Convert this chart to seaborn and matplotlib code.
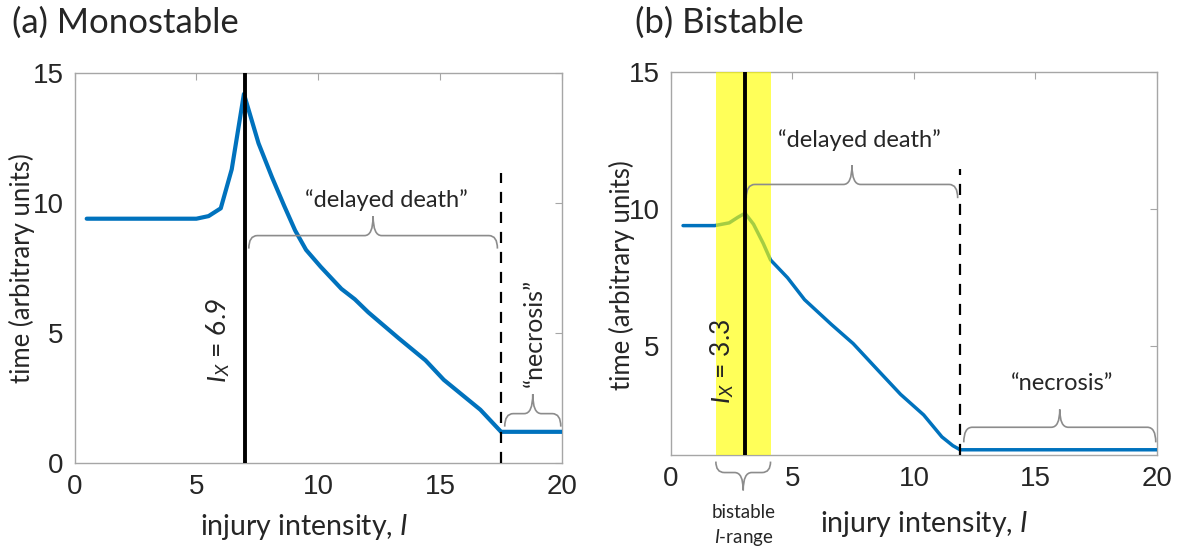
import numpy as np
import pandas as pd
import matplotlib
matplotlib.use('Agg')
import matplotlib.pyplot as plt
from matplotlib.path import Path
from matplotlib.patches import PathPatch
import seaborn as sns

# ---- data ----
mono_I = [0.5, 5.0, 5.5, 6.0, 6.45, 6.95, 7.55, 8.1, 8.6, 9.05, 9.5, 10.1, 10.95,
          11.5, 12.05, 13.3, 14.4, 15.15, 16.65, 17.5, 20.0]
mono_t = [9.4, 9.4, 9.5, 9.8, 11.3, 14.2, 12.3, 11.0, 9.9, 8.95, 8.2, 7.55, 6.7,
          6.3, 5.8, 4.8, 3.95, 3.2, 2.05, 1.2, 1.2]

bi_I = [0.5, 1.8, 2.4, 2.75, 3.05, 3.4, 3.8, 4.1, 4.8, 5.5, 6.6, 7.5, 8.55,
        9.45, 10.4, 11.15, 11.6, 11.9, 20.0]
bi_t = [9.4, 9.4, 9.5, 9.7, 9.85, 9.45, 8.75, 8.15, 7.5, 6.7, 5.8, 5.1, 4.1,
        3.25, 2.5, 1.7, 1.38, 1.23, 1.23]

mono_IX = 7.0          # drawn position of I_X = 6.9
mono_necrosis = 17.5
bi_IX = 3.05           # drawn position of I_X = 3.3
bi_necrosis = 11.9
bi_range = [1.85, 4.1]

x_ticks = [0, 5, 10, 15, 20]

BLUE = '#0072BD'
GREY_BRACE = '#8c8c8c'
AX_GREY = '#a6a6a6'

sns.set_style('white')
plt.rcParams['font.family'] = ['Lato', 'DejaVu Sans']
plt.rcParams['mathtext.fontset'] = 'custom'
plt.rcParams['mathtext.it'] = 'Lato:italic'
plt.rcParams['mathtext.rm'] = 'Lato'


def brace(ax, x0, x1, y_line, y_end, y_tip, r, clip=True):
    '''curly brace between x0 and x1, ends at y_end, tip at y_tip'''
    xm = (x0 + x1) / 2.0
    verts = [(x0, y_end), (x0, y_line), (x0 + r, y_line),
             (xm - r, y_line), (xm, y_line), (xm, y_tip),
             (xm, y_line), (xm + r, y_line),
             (x1 - r, y_line), (x1, y_line), (x1, y_end)]
    codes = [Path.MOVETO, Path.CURVE3, Path.CURVE3,
             Path.LINETO, Path.CURVE3, Path.CURVE3,
             Path.CURVE3, Path.CURVE3,
             Path.LINETO, Path.CURVE3, Path.CURVE3]
    patch = PathPatch(Path(verts, codes), facecolor='none', edgecolor=GREY_BRACE,
                      lw=1.2, clip_on=clip, zorder=4)
    ax.add_patch(patch)


def style_axes(ax):
    for s in ax.spines.values():
        s.set_color(AX_GREY)
        s.set_linewidth(1.0)
        s.set_visible(True)
    ax.tick_params(direction='in', length=5, width=0.8, color=AX_GREY,
                   top=True, right=True, labelsize=20, labelcolor='#262626', pad=8)
    for lab in ax.get_xticklabels() + ax.get_yticklabels():
        lab.set_family('Liberation Sans')


fig = plt.figure(figsize=(11.77, 5.46), dpi=100)
ax0 = fig.add_axes([0.0633, 0.152, 0.4142, 0.714])
ax1 = fig.add_axes([0.570, 0.1667, 0.413, 0.7015])

# ---------------- (a) Monostable ----------------
df_mono = pd.DataFrame({'I': mono_I, 't': mono_t})
sns.lineplot(data=df_mono, x='I', y='t', ax=ax0, color=BLUE, lw=3, sort=False, zorder=3)
ax0.axvline(mono_IX, color='black', lw=2.8, zorder=5)
ax0.plot([mono_necrosis, mono_necrosis], [0, 11.15], color='black', lw=1.6,
         ls=(0, (5, 4)), zorder=5)
ax0.set_xlim(0, 20)
ax0.set_ylim(0, 15)
ax0.set_xticks(x_ticks)
ax0.set_yticks([0, 5, 10, 15])
style_axes(ax0)

brace(ax0, 7.15, 17.35, 8.75, 8.25, 9.5, 0.35)
ax0.text(12.8, 10.1, '\u201cdelayed death\u201d', ha='center', va='center', fontsize=17)
brace(ax0, 17.65, 19.95, 1.9, 1.4, 2.65, 0.35)
ax0.text(18.85, 5.0, '\u201cnecrosis\u201d', ha='center', va='center', fontsize=18, rotation=90)
ax0.text(5.9, 4.7, r'$I_X$ = 6.9', ha='center', va='center', fontsize=19, rotation=90,
         zorder=6)

ax0.set_ylabel('time (arbitrary units)', fontsize=18.5)
ax0.set_xlabel('injury intensity, $I$', fontsize=20.5)
ax0.yaxis.set_label_coords(-0.082, 0.5)
ax0.xaxis.set_label_coords(0.47, -0.125)

# ---------------- (b) Bistable ----------------
df_bi = pd.DataFrame({'I': bi_I, 't': bi_t})
sns.lineplot(data=df_bi, x='I', y='t', ax=ax1, color=BLUE, lw=2.5, sort=False, zorder=3)
ax1.axvspan(bi_range[0], bi_range[1], color='#ffff00', alpha=0.65, lw=0, zorder=4)
ax1.axvline(bi_IX, color='black', lw=2.8, zorder=5)
ax1.plot([bi_necrosis, bi_necrosis], [1.04, 11.45], color='black', lw=1.6,
         ls=(0, (5, 4)), zorder=5)
ax1.set_xlim(0, 20)
ax1.set_ylim(1.04, 15)
ax1.set_xticks(x_ticks)
ax1.set_yticks([5, 10, 15])
style_axes(ax1)

brace(ax1, 3.1, 11.8, 10.9, 10.4, 11.6, 0.35)
ax1.text(7.75, 12.5, '\u201cdelayed death\u201d', ha='center', va='center', fontsize=17)
brace(ax1, 12.05, 19.95, 2.05, 1.5, 2.7, 0.35)
ax1.text(16.1, 3.65, '\u201cnecrosis\u201d', ha='center', va='center', fontsize=17)
ax1.text(2.1, 4.45, r'$I_X$ = 3.3', ha='center', va='center', fontsize=19, rotation=90,
         zorder=6)

# bistable range brace below the axis
brace(ax1, bi_range[0], bi_range[1], 0.4, 0.8, -0.25, 0.35, clip=False)
ax1.text(3.0, -1.05, 'bistable', ha='center', va='center', fontsize=13.5, clip_on=False)
ax1.text(3.0, -1.95, '$I$-range', ha='center', va='center', fontsize=13.5, clip_on=False)

ax1.set_ylabel('time (arbitrary units)', fontsize=18.5)
ax1.set_xlabel('injury intensity, $I$', fontsize=20.5)
ax1.yaxis.set_label_coords(-0.074, 0.47)
ax1.xaxis.set_label_coords(0.52, -0.14)

fig.text(0.0102, 0.94, '(a) Monostable', fontsize=25, va='baseline', ha='left')
fig.text(0.5395, 0.94, '(b) Bistable', fontsize=25, va='baseline', ha='left')

fig.savefig('out.png', dpi=100)
